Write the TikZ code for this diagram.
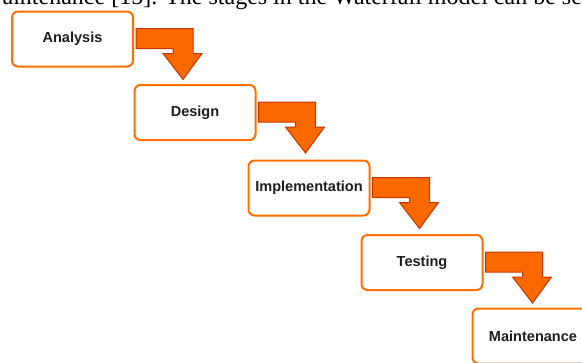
\documentclass[tikz,border=0pt]{standalone}
\usepackage{fontspec}
\setmainfont{Liberation Serif}
\newfontfamily\stagefont{Liberation Sans}

\definecolor{stageorange}{RGB}{255,111,0}
\definecolor{stagetext}{RGB}{30,30,30}
\definecolor{arrowfill}{RGB}{250,104,0}
\definecolor{arrowline}{RGB}{199,53,0}

\tikzset{
  stage/.style={draw=stageorange, line width=1.5pt, rounded corners=4.5pt, fill=white,
    minimum width=90.75pt, minimum height=41.25pt, inner sep=0.75pt,
    font=\stagefont\fontsize{10.9}{13}\selectfont\bfseries, text=stagetext},
  steparrow/.style={fill=arrowfill, draw=arrowline, line width=0.75pt, line join=miter}
}

% bent block arrow hanging off the top right corner of a stage
\newcommand{\stagearrow}[1]{%
  \draw [steparrow, shift={(#1.north east)}] (2,18) -- (59,18) -- (59,43) -- (68,43) -- (49,69) -- (29,43) -- (39,43) -- (39,38) -- (2,38) -- cycle ;}

\begin{document}
\begin{tikzpicture}[x=0.75pt,y=0.75pt,yscale=-1,xscale=1]
        \clip (0,0) rectangle (582,362) ;

        % Text Node
        \node (para) [anchor=base west, inner sep=0pt, font=\fontsize{18}{22}\selectfont] at (2.4,4) {aintenance [15]. The stages in the Waterfall model can be seen};

        %Shape: Rounded Rect
        \node (analysis) [stage] at (72.5,39) {Analysis};
        \node (design) [stage] at (195,112.5) {Design};
        \node (implementation) [stage] at (309,188) {Implementation};
        \node (testing) [stage] at (422,262.5) {Testing};
        \node (maintenance) [stage] at (533,336) {Maintenance};

        %Shape: Bent Arrows
        \foreach \s in {analysis,design,implementation,testing}
          {\stagearrow{\s}}
\end{tikzpicture}
\end{document}
